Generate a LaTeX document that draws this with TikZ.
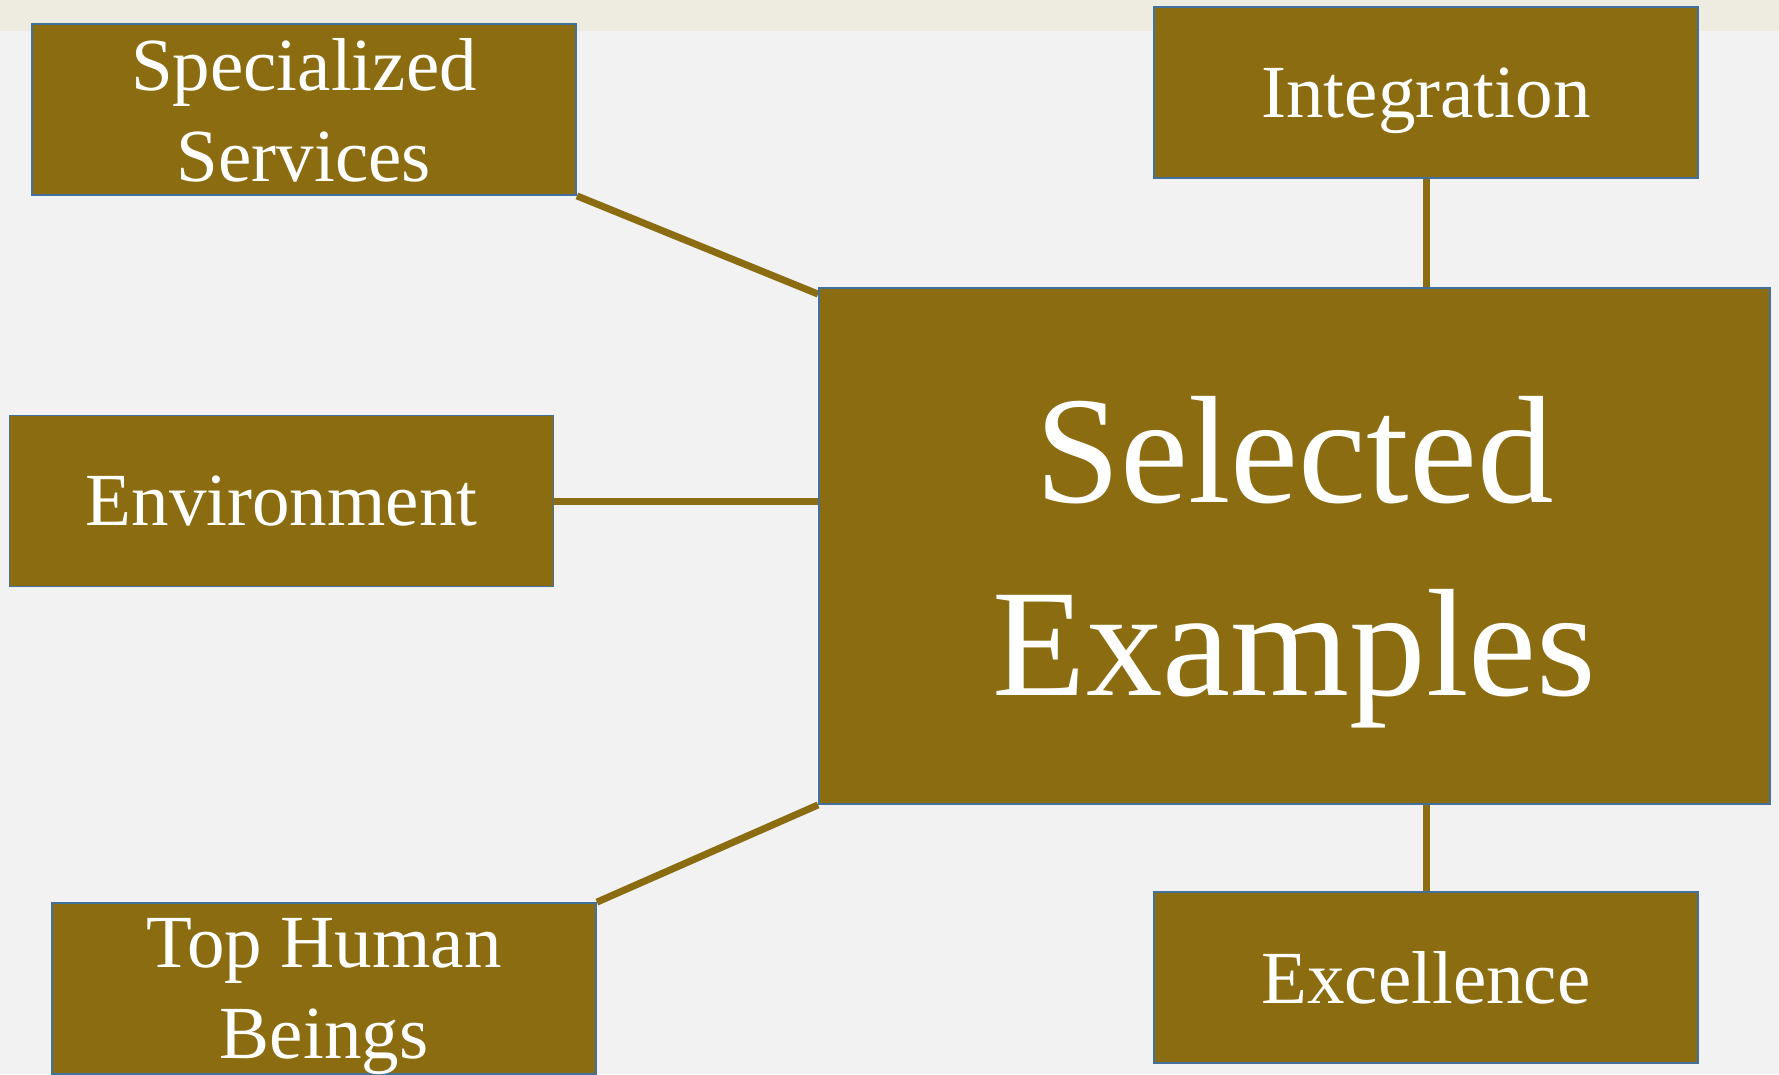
\documentclass[tikz,border=0pt]{standalone}
\usepackage{fontspec}
\setmainfont{Liberation Serif}
\usetikzlibrary{calc}
\definecolor{olive}{RGB}{139,108,16}
\definecolor{bordblue}{RGB}{65,113,156}
\definecolor{pagebg}{RGB}{242,242,242}
\definecolor{stripbg}{RGB}{238,236,225}
\pgfdeclarelayer{bg}
\pgfdeclarelayer{lines}
\pgfsetlayers{bg,lines,main}
\tikzset{
  smallbox/.style={rectangle, fill=olive, draw=bordblue, line width=1.8pt,
    minimum width=544pt, minimum height=171pt, inner sep=0pt,
    text=white, align=center, text depth=0pt,
    font=\fontsize{75}{91}\selectfont},
  bigbox/.style={smallbox, minimum width=951pt, minimum height=516pt,
    font=\fontsize{153}{193}\selectfont},
  conn/.style={draw=olive, line width=7pt}
}
\begin{document}
\begin{tikzpicture}[x=1pt,y=-1pt]
\begin{pgfonlayer}{bg}
  \fill[pagebg] (0,0) rectangle (1779,1074);
  \fill[stripbg] (0,0) rectangle (1779,31);
\end{pgfonlayer}
\useasboundingbox (0,0) rectangle (1779,1074);
\node[bigbox] (sel) at (1294.5,546) {Selected\\Examples};
\node[smallbox] (ss) at (304,109.5) {Specialized\\Services};
\node[smallbox] (int) at (1426,92.5) {Integration};
\node[smallbox] (env) at (281.5,501) {Environment};
\node[smallbox] (thb) at (324,988.5) {Top Human\\Beings};
\node[smallbox] (exc) at (1426,977.5) {Excellence};
\begin{pgfonlayer}{lines}
  \draw[conn] (ss.south east) -- ([yshift=-7pt]sel.north west);
  \draw[conn] (env.east) -- (env.east -| sel.west);
  \draw[conn] (thb.north east) -- (sel.south west);
  \draw[conn] (int.south) -- (int.south |- sel.north);
  \draw[conn] (exc.north) -- (exc.north |- sel.south);
\end{pgfonlayer}
\end{tikzpicture}
\end{document}
